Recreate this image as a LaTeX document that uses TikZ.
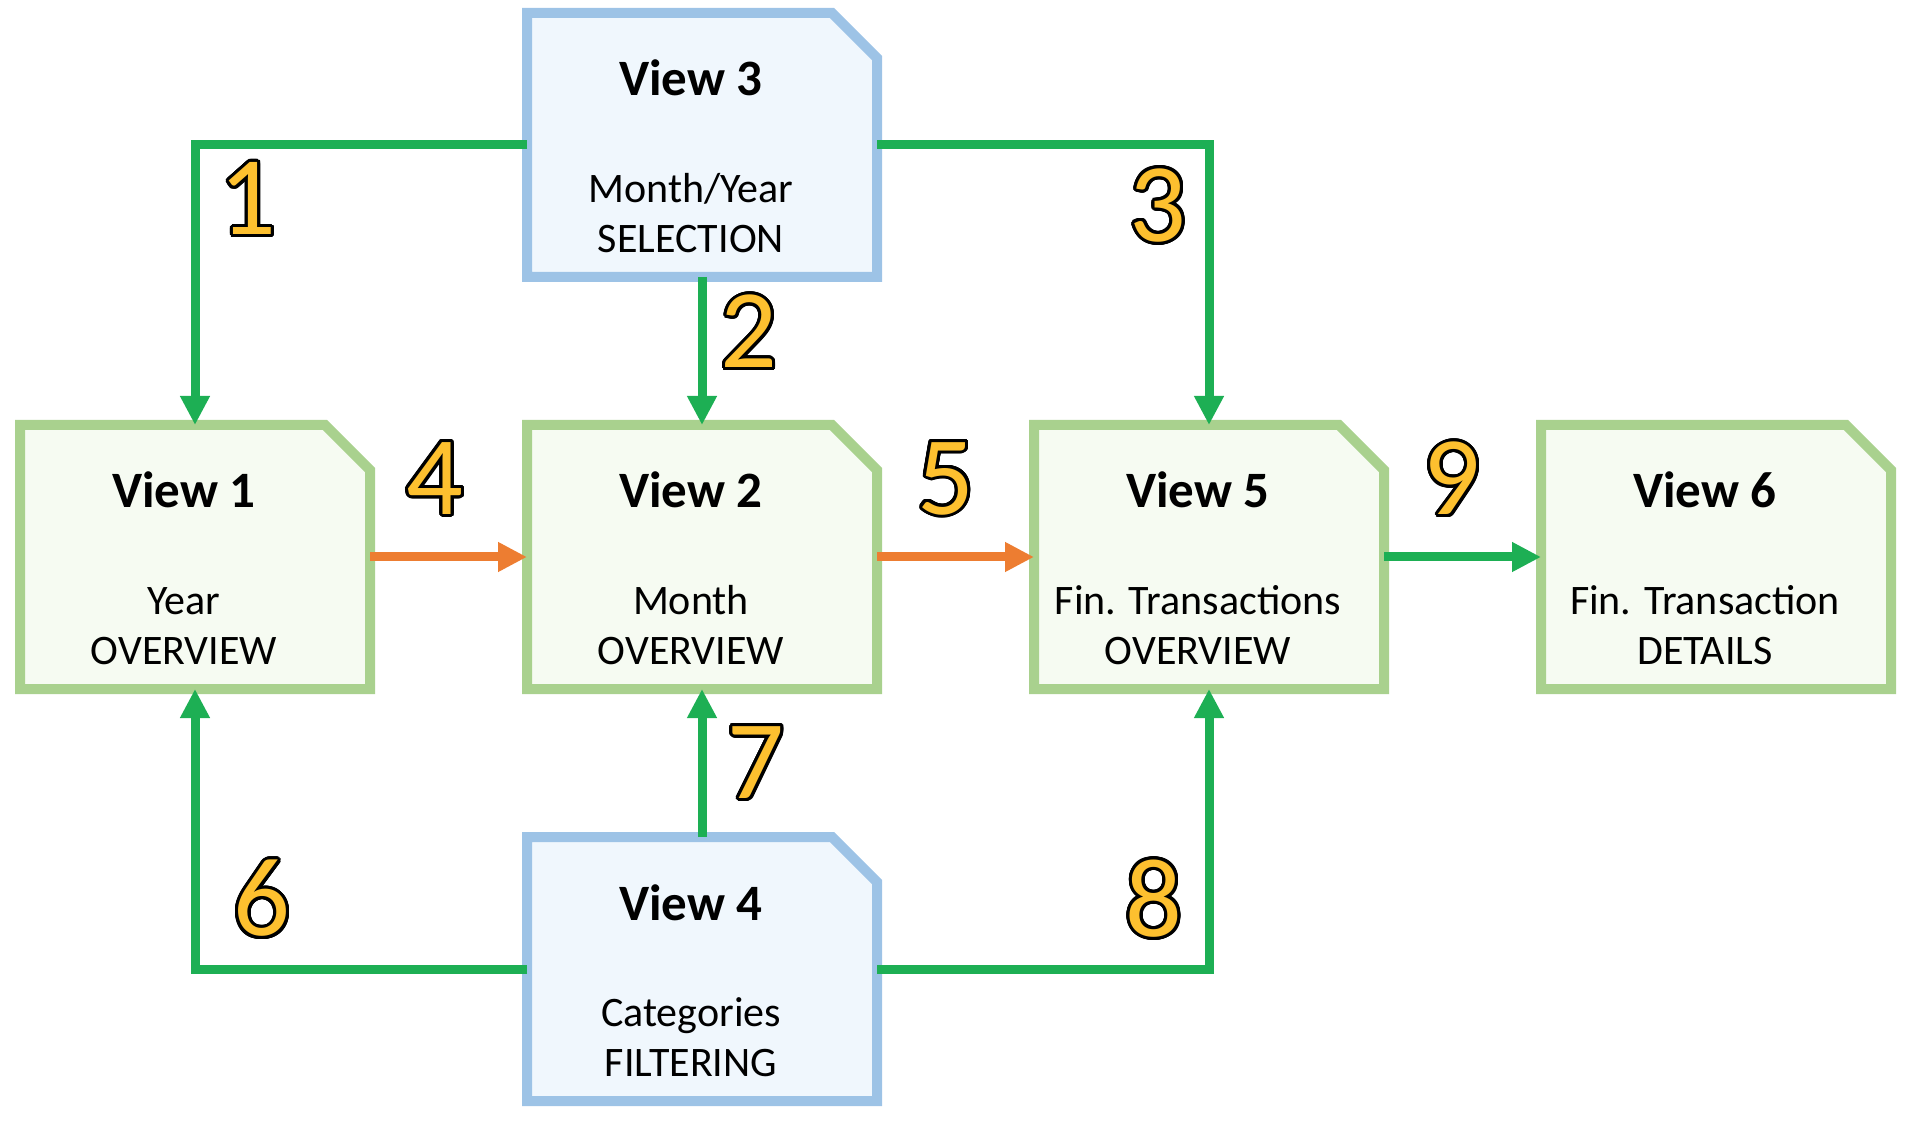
\documentclass[tikz,border=0pt]{standalone}
\usepackage{fontspec}
\setmainfont{Carlito}
\usepackage[copies]{contour}
\usepackage{tikz}
\usetikzlibrary{arrows.meta,positioning,backgrounds}

\contourlength{3pt}
\contournumber{32}

\definecolor{greenline}{HTML}{A9D18E}
\definecolor{greenfill}{HTML}{F6FBF2}
\definecolor{blueline}{HTML}{9DC3E6}
\definecolor{bluefill}{HTML}{F0F7FD}
\definecolor{linkgreen}{HTML}{1DAF54}
\definecolor{linkorange}{HTML}{ED7D31}
\definecolor{numyellow}{HTML}{FDC02F}

\begin{document}
\begin{tikzpicture}
	[x=1pt,y=1pt,node distance=148pt and 157pt,
		view/.style={rectangle,minimum width=350pt,minimum height=264pt,inner sep=0pt,outer sep=0pt},
		greenview/.style={line width=10pt,draw=greenline,fill=greenfill},
		blueview/.style={line width=10pt,draw=blueline,fill=bluefill},
		title/.style={font=\fontsize{51}{60}\selectfont\bfseries,anchor=base,inner sep=0pt},
		body/.style={font=\fontsize{42}{50}\selectfont,align=center,anchor=north,inner sep=0pt},
		link/.style={line width=9pt,draw=linkgreen,-{Triangle[length=29pt,width=28pt]}},
		flow/.style={link,draw=linkorange},
		num/.style={font=\fontsize{112}{120}\selectfont,text=numyellow,inner sep=0pt}]

	\useasboundingbox (0,0) rectangle (1918,1120);

	\node[view]  (V1)  at (195,563)  {};
	\node[view]  [right=of V1]  (V2)  {};
	\node[view]  [right=of V2]  (V5)  {};
	\node[view]  [right=of V5]  (V6)  {};
	\node[view]  [above=of V2]  (V3)  {};
	\node[view]  [below=of V2]  (V4)  {};

	% snipped corner outlines
	\begin{scope}[on background layer]
		\foreach \n/\s in {V1/greenview,V2/greenview,V5/greenview,V6/greenview,V3/blueview,V4/blueview}
			\draw[\s] (\n.south west) -- (\n.north west) -- ([xshift=-45pt]\n.north east)
				-- ([yshift=-45pt]\n.north east) -- (\n.south east) -- cycle;
	\end{scope}

	\foreach \n/\t/\a/\b in {V1/View 1/Year/OVERVIEW,V2/View 2/Month/OVERVIEW,
			V3/View 3/{Month/Year}/SELECTION,V4/View 4/Categories/FILTERING,
			V5/View 5/Fin. Transactions/OVERVIEW,V6/View 6/Fin. Transaction/DETAILS}
	{
		\node[title]  (\n-title)  at ([xshift=-11pt,yshift=49pt]\n.center)  {\t};
		\node[body]  (\n-text)  at ([xshift=-11pt,yshift=-22pt]\n.center)  {\strut\a\\\b};
	}

	\draw[link]  (V3.west) -| (V1.north);
	\draw[link]  (V3.south) -- (V2.north);
	\draw[link]  (V3.east) -| (V5.north);
	\draw[flow]  (V1.east) -- (V2.west);
	\draw[flow]  (V2.east) -- (V5.west);
	\draw[link]  (V4.west) -| (V1.south);
	\draw[link]  (V4.north) -- (V2.south);
	\draw[link]  (V4.east) -| (V5.south);
	\draw[link]  (V5.east) -- (V6.west);

	\node[num]  (n1)  at (248,920)  {\contour{black}{1}};
	\node[num]  (n2)  at (749,787)  {\contour{black}{2}};
	\node[num]  (n3)  at (1158,913)  {\contour{black}{3}};
	\node[num]  (n4)  at (435,640)  {\contour{black}{4}};
	\node[num]  (n5)  at (946,640)  {\contour{black}{5}};
	\node[num]  (n6)  at (262,220)  {\contour{black}{6}};
	\node[num]  (n7)  at (756,356)  {\contour{black}{7}};
	\node[num]  (n8)  at (1154,220)  {\contour{black}{8}};
	\node[num]  (n9)  at (1452,640)  {\contour{black}{9}};

\end{tikzpicture}
\end{document}
